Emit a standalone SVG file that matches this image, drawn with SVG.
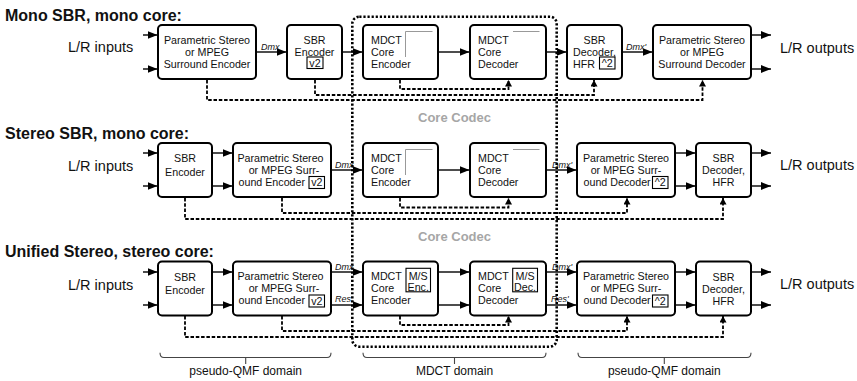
<svg xmlns="http://www.w3.org/2000/svg" width="857" height="381" viewBox="0 0 857 381">
<style>
text{font-family:"Liberation Sans",Arial,Helvetica,sans-serif;fill:#111}
.box{fill:#fff;stroke:#000;stroke-width:2}
.t{font-size:10.7px}
.c{text-anchor:middle}
.lbl{font-size:9px;font-style:italic}
.title{font-size:16px;font-weight:bold}
.io{font-size:14.5px}
.arr{stroke:#000;stroke-width:1.4;fill:none;marker-end:url(#ah)}
.dash{stroke:#000;stroke-width:1.8;stroke-dasharray:3.5 1.8;fill:none;marker-end:url(#dh)}
.sub{fill:#fff;stroke:#000;stroke-width:1.1}
.ghost{stroke:#999;stroke-width:1;fill:none}
.dot{fill:none;stroke:#000;stroke-width:2.6;stroke-dasharray:2.2 1.9}
.core{font-size:13px;font-weight:bold;fill:#a6a6a6;text-anchor:middle}
.brace{fill:none;stroke:#444;stroke-width:1.1}
.dom{font-size:12px;text-anchor:middle}
</style>
<defs>
<marker id="ah" markerWidth="10" markerHeight="8" refX="10" refY="4" orient="auto" markerUnits="userSpaceOnUse"><path d="M0,0 L10,4 L0,8 z" fill="#000"/></marker>
<marker id="dh" markerWidth="7" markerHeight="7" refX="6.5" refY="3.5" orient="auto" markerUnits="userSpaceOnUse"><path d="M0,0 L6.5,3.5 L0,7 z" fill="#000"/></marker>
</defs>

<g id="titles">
<text class="title" x="5" y="20.5">Mono SBR, mono core:</text>
<text class="title" x="5" y="138.6">Stereo SBR, mono core:</text>
<text class="title" x="5" y="256.7">Unified Stereo, stereo core:</text>
<text class="io" x="68" y="52.3">L/R inputs</text>
<text class="io" x="68" y="170.5">L/R inputs</text>
<text class="io" x="68" y="289.5">L/R inputs</text>
<text class="io" x="780" y="52.5">L/R outputs</text>
<text class="io" x="780" y="170">L/R outputs</text>
<text class="io" x="780" y="289">L/R outputs</text>
</g>

<g id="core-codec">
<rect class="dot" x="352.3" y="16.7" width="204.4" height="330" rx="7"/>
<text class="core" x="454.5" y="122">Core Codec</text>
<text class="core" x="454.5" y="241">Core Codec</text>
</g>

<g id="connectors">
<!-- row 1 -->
<path class="arr" d="M143,35 H157.5"/>
<path class="arr" d="M143,69 H157.5"/>
<path class="arr" d="M256,52 H286.5"/>
<path class="arr" d="M342,52 H362.5"/>
<path class="arr" d="M438,52 H469.5"/>
<path class="arr" d="M546,52 H566.5"/>
<path class="arr" d="M622,52 H652.5"/>
<path class="arr" d="M751,35 H771"/>
<path class="arr" d="M751,69 H771"/>
<path class="dash" d="M207,80 V100 H702.5 V80"/>
<path class="dash" d="M315,80 V95 H594 V80"/>
<path class="dash" d="M400,80 V89 H508.5 V80"/>
<!-- row 2 -->
<path class="arr" d="M143,153 H157.5"/>
<path class="arr" d="M143,186 H157.5"/>
<path class="arr" d="M212,153 H232.5"/>
<path class="arr" d="M212,186 H232.5"/>
<path class="arr" d="M331,170 H362.5"/>
<path class="arr" d="M438,170 H469.5"/>
<path class="arr" d="M546,170 H576.5"/>
<path class="arr" d="M675,153 H695.5"/>
<path class="arr" d="M675,186 H695.5"/>
<path class="arr" d="M751,153 H771"/>
<path class="arr" d="M751,186 H771"/>
<path class="dash" d="M185,198 V219 H723 V198"/>
<path class="dash" d="M282,198 V213 H627 V198"/>
<path class="dash" d="M400,198 V207.5 H508.5 V198"/>
<!-- row 3 -->
<path class="arr" d="M143,272 H157.5"/>
<path class="arr" d="M143,305 H157.5"/>
<path class="arr" d="M212,272 H232.5"/>
<path class="arr" d="M212,305 H232.5"/>
<path class="arr" d="M331,272 H362.5"/>
<path class="arr" d="M331,305 H362.5"/>
<path class="arr" d="M438,272 H469.5"/>
<path class="arr" d="M438,305 H469.5"/>
<path class="arr" d="M546,272 H576.5"/>
<path class="arr" d="M546,305 H576.5"/>
<path class="arr" d="M675,272 H695.5"/>
<path class="arr" d="M675,305 H695.5"/>
<path class="arr" d="M751,272 H771"/>
<path class="arr" d="M751,305 H771"/>
<path class="dash" d="M185,316 V337 H723 V316"/>
<path class="dash" d="M282,316 V331 H627 V316"/>
<path class="dash" d="M400,316 V325 H508.5 V316"/>
<!-- labels -->
<text class="lbl" x="261" y="50">Dmx</text>
<text class="lbl" x="626" y="50">Dmx'</text>
<text class="lbl" x="335" y="168">Dmx</text>
<text class="lbl" x="552" y="168">Dmx'</text>
<text class="lbl" x="335" y="269.5">Dmx</text>
<text class="lbl" x="552" y="269.5">Dmx'</text>
<text class="lbl" x="335" y="302">Res</text>
<text class="lbl" x="551" y="302">Res'</text>
</g>

<!-- Row 1 nodes -->
<g id="r1-ps-enc">
<rect class="box" x="158" y="25" width="98" height="54" rx="4"/>
<text class="t c" x="207" y="43.5">Parametric Stereo</text>
<text class="t c" x="207" y="55.5">or MPEG</text>
<text class="t c" x="207" y="67.5">Surround Encoder</text>
</g>
<g id="r1-sbr-enc">
<rect class="box" x="287" y="25" width="55" height="54" rx="4"/>
<text class="t c" x="314.5" y="43.5">SBR</text>
<text class="t c" x="314.5" y="55.5">Encoder</text>
<rect class="sub" x="307" y="57" width="16" height="11.5"/>
<text class="t c" x="315" y="66.5">v2</text>
</g>
<g id="r1-mdct-enc">
<rect class="box" x="363" y="25" width="75" height="54" rx="4"/>
<path class="ghost" d="M405.5,57 V31.5 H432.5"/>
<text class="t" x="371" y="43.5">MDCT</text>
<text class="t" x="371" y="55.5">Core</text>
<text class="t" x="371" y="67.5">Encoder</text>
</g>
<g id="r1-mdct-dec">
<rect class="box" x="470" y="25" width="76" height="54" rx="4"/>
<path class="ghost" d="M513,31.5 H539.5"/>
<text class="t" x="478" y="43.5">MDCT</text>
<text class="t" x="478" y="55.5">Core</text>
<text class="t" x="478" y="67.5">Decoder</text>
</g>
<g id="r1-sbr-dec">
<rect class="box" x="567" y="25" width="55" height="54" rx="4"/>
<text class="t c" x="594.5" y="43.5">SBR</text>
<text class="t c" x="594.5" y="55.5">Decoder,</text>
<text class="t" x="573" y="67.5">HFR</text>
<rect class="sub" x="599.5" y="57" width="15.5" height="12"/>
<text class="t c" x="607.3" y="67">^2</text>
</g>
<g id="r1-ps-dec">
<rect class="box" x="653" y="25" width="98" height="54" rx="4"/>
<text class="t c" x="702" y="43.5">Parametric Stereo</text>
<text class="t c" x="702" y="55.5">or MPEG</text>
<text class="t c" x="702" y="67.5">Surround Decoder</text>
</g>

<!-- Row 2 nodes -->
<g id="r2-sbr-enc">
<rect class="box" x="158" y="143" width="54" height="54" rx="4"/>
<text class="t c" x="185" y="162">SBR</text>
<text class="t c" x="185" y="175.5">Encoder</text>
</g>
<g id="r2-ps-enc">
<rect class="box" x="233" y="143" width="98" height="54" rx="4"/>
<text class="t c" x="280.5" y="161.5">Parametric Stereo</text>
<text class="t c" x="284" y="173.5">or MPEG Surr-</text>
<text class="t" x="238.5" y="185.5">ound Encoder</text>
<rect class="sub" x="309" y="176.5" width="15.5" height="12"/>
<text class="t c" x="316.8" y="186.3">v2</text>
</g>
<g id="r2-mdct-enc">
<rect class="box" x="363" y="143" width="75" height="54" rx="4"/>
<path class="ghost" d="M405.5,175 V149.5 H432.5"/>
<text class="t" x="371" y="161.5">MDCT</text>
<text class="t" x="371" y="173.5">Core</text>
<text class="t" x="371" y="185.5">Encoder</text>
</g>
<g id="r2-mdct-dec">
<rect class="box" x="470" y="143" width="76" height="54" rx="4"/>
<path class="ghost" d="M513,149.5 H539.5"/>
<text class="t" x="478" y="161.5">MDCT</text>
<text class="t" x="478" y="173.5">Core</text>
<text class="t" x="478" y="185.5">Decoder</text>
</g>
<g id="r2-ps-dec">
<rect class="box" x="577" y="143" width="98" height="54" rx="4"/>
<text class="t c" x="626" y="161.5">Parametric Stereo</text>
<text class="t c" x="626" y="173.5">or MPEG Surr-</text>
<text class="t" x="583.5" y="185.5">ound Decoder</text>
<rect class="sub" x="652.5" y="176.5" width="15.5" height="12"/>
<text class="t c" x="660.3" y="186.3">^2</text>
</g>
<g id="r2-sbr-dec">
<rect class="box" x="696" y="143" width="55" height="54" rx="4"/>
<text class="t c" x="723.5" y="162">SBR</text>
<text class="t c" x="723.5" y="174">Decoder,</text>
<text class="t c" x="723.5" y="186">HFR</text>
</g>

<!-- Row 3 nodes -->
<g id="r3-sbr-enc">
<rect class="box" x="158" y="261.5" width="54" height="54" rx="4"/>
<text class="t c" x="185" y="280.5">SBR</text>
<text class="t c" x="185" y="294">Encoder</text>
</g>
<g id="r3-ps-enc">
<rect class="box" x="233" y="261.5" width="98" height="54" rx="4"/>
<text class="t c" x="280.5" y="280">Parametric Stereo</text>
<text class="t c" x="284" y="292">or MPEG Surr-</text>
<text class="t" x="238.5" y="304">ound Encoder</text>
<rect class="sub" x="309" y="295" width="15.5" height="12"/>
<text class="t c" x="316.8" y="304.8">v2</text>
</g>
<g id="r3-mdct-enc">
<rect class="box" x="363" y="261.5" width="75" height="54" rx="4"/>
<text class="t" x="371" y="280">MDCT</text>
<text class="t" x="371" y="292">Core</text>
<text class="t" x="371" y="304">Encoder</text>
<rect class="sub" x="406" y="268.3" width="24.5" height="23.5"/>
<text class="t c" x="418.2" y="280">M/S</text>
<text class="t c" x="418.2" y="291">Enc.</text>
</g>
<g id="r3-mdct-dec">
<rect class="box" x="470" y="261.5" width="76" height="54" rx="4"/>
<text class="t" x="478" y="280">MDCT</text>
<text class="t" x="478" y="292">Core</text>
<text class="t" x="478" y="304">Decoder</text>
<rect class="sub" x="512.7" y="268.3" width="24.8" height="23.5"/>
<text class="t c" x="525.1" y="280">M/S</text>
<text class="t c" x="525.1" y="291">Dec.</text>
</g>
<g id="r3-ps-dec">
<rect class="box" x="577" y="261.5" width="98" height="54" rx="4"/>
<text class="t c" x="626" y="280">Parametric Stereo</text>
<text class="t c" x="626" y="292">or MPEG Surr-</text>
<text class="t" x="583.5" y="304">ound Decoder</text>
<rect class="sub" x="652.5" y="295" width="15.5" height="12"/>
<text class="t c" x="660.3" y="304.8">^2</text>
</g>
<g id="r3-sbr-dec">
<rect class="box" x="696" y="261.5" width="55" height="54" rx="4"/>
<text class="t c" x="723.5" y="280.5">SBR</text>
<text class="t c" x="723.5" y="292.5">Decoder,</text>
<text class="t c" x="723.5" y="304.5">HFR</text>
</g>

<g id="domains">
<path class="brace" d="M160,352.7 Q160,357.5 164,357.5 H327 Q331,357.5 331,352.7 M245.7,357.5 V364"/>
<text class="dom" x="245.7" y="375">pseudo-QMF domain</text>
<path class="brace" d="M363,352.7 Q363,357.5 367,357.5 H542 Q546,357.5 546,352.7 M454.5,357.5 V364"/>
<text class="dom" x="454.5" y="375">MDCT domain</text>
<path class="brace" d="M578,352.7 Q578,357.5 582,357.5 H747 Q751,357.5 751,352.7 M664.3,357.5 V364"/>
<text class="dom" x="664.3" y="375">pseudo-QMF domain</text>
</g>
</svg>
